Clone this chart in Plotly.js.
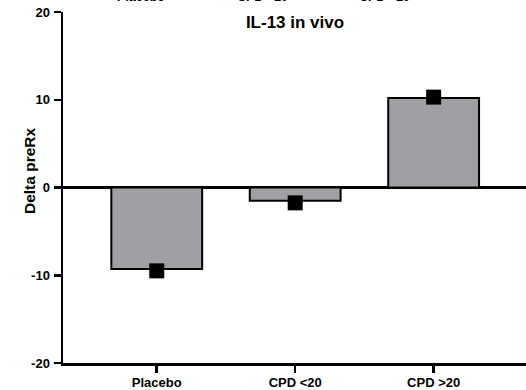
<!DOCTYPE html>
<html>
<head>
<meta charset="utf-8">
<script src="https://cdn.plot.ly/plotly-3.0.1.min.js"></script>
<style>html,body{margin:0;padding:0;background:#fff;}#chart{width:526px;height:390px;}</style>
</head>
<body>
<div id="chart"></div>
<script>
const categories = ["Placebo", "CPD <20", "CPD >20"];
const barValues = [-9.3, -1.5, 10.2];
const pointValues = [-9.5, -1.75, 10.3];
const yTickValues = [-20, -10, 0, 10, 20];
const yTickLabels = ["-20", "-10", "0", "10", "20"];
const topCutLabels = ["Placebo", "CPD <20", "CPD >20"];
const topCutPx = [141, 262, 384];

const xIdx = categories.map((c, i) => i);
const FONT = "Liberation Sans, Arial, sans-serif";
const L = 63, T = 12, W = 463, H = 351;

const traces = [
  {
    type: "bar",
    x: xIdx,
    y: barValues,
    width: 0.656,
    marker: {color: "#a09fa4", line: {color: "#000", width: 2}},
    hoverinfo: "skip"
  },
  {
    type: "scatter",
    mode: "markers",
    x: xIdx,
    y: pointValues,
    marker: {symbol: "square", size: 15, color: "#000"},
    hoverinfo: "skip"
  }
];

const annotations = topCutLabels.map((t, i) => ({
  text: "<b>" + t + "</b>",
  x: (topCutPx[i] - L) / W, xref: "paper",
  y: 1 + 15 / H, yref: "paper",
  xanchor: "center", yanchor: "middle",
  showarrow: false,
  font: {family: FONT, size: 12.5, color: "#000"}
}));
annotations.push({
  text: "<b>Delta preRx</b>",
  x: (30 - L) / W, xref: "paper",
  y: (363 - 171) / H, yref: "paper",
  xanchor: "center", yanchor: "middle",
  showarrow: false,
  textangle: -90,
  font: {family: FONT, size: 15.5, color: "#000"}
});

const layout = {
  width: 526, height: 390,
  margin: {l: L, r: 0, t: T, b: 27, pad: 0},
  paper_bgcolor: "#fff", plot_bgcolor: "#fff",
  showlegend: false,
  bargap: 0,
  title: {
    text: "<b>IL-13 in vivo</b>",
    font: {family: FONT, size: 17, color: "#000"},
    x: 295 / 526, xanchor: "center",
    y: 1 - 22.5 / 390, yanchor: "middle"
  },
  xaxis: {
    range: [-0.677, 2.667],
    tickvals: xIdx,
    ticktext: categories.map(c => "<b>" + c + "</b>"),
    ticks: "outside", ticklen: 7, tickwidth: 2.5, tickcolor: "#000",
    showline: true, linecolor: "#000", linewidth: 2.5,
    showgrid: false, zeroline: false,
    tickfont: {family: FONT, size: 13, color: "#000"},
    ticklabelstandoff: -1,
    fixedrange: true
  },
  yaxis: {
    range: [-20, 20],
    tickvals: yTickValues,
    ticktext: yTickLabels.map(t => "<b>" + t + "</b>"),
    ticks: "outside", ticklen: 7, tickwidth: 2.5, tickcolor: "#000",
    showline: true, linecolor: "#000", linewidth: 2.5,
    showgrid: false,
    zeroline: true, zerolinecolor: "#000", zerolinewidth: 2.5,
    tickfont: {family: FONT, size: 13, color: "#000"},
    ticklabelstandoff: 1,
    fixedrange: true
  },
  annotations: annotations
};

Plotly.newPlot("chart", traces, layout, {displayModeBar: false, staticPlot: true});
</script>
</body>
</html>
